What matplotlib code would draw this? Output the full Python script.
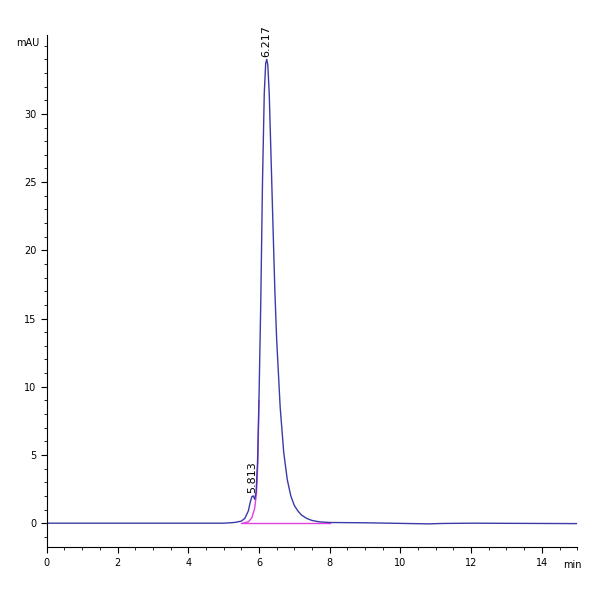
import matplotlib.pyplot as plt
from matplotlib.ticker import MultipleLocator

# chromatogram trace (min, mAU)
time = [0, 5.0, 5.3, 5.4, 5.5, 5.6, 5.7, 5.75, 5.8, 5.84, 5.88, 5.92, 5.96, 6.0, 6.05, 6.1,
        6.15, 6.19, 6.22, 6.25, 6.29, 6.34, 6.4, 6.45, 6.5, 6.6, 6.7, 6.8, 6.9, 7.0,
        7.1, 7.2, 7.35, 7.5, 7.7, 8.0, 9.0, 10.8, 11.2, 12.0, 15.0]
signal = [0.0, 0.0, 0.05, 0.1, 0.15, 0.35, 0.9, 1.5, 1.95, 2.0, 1.75, 2.3, 4.5, 9.0, 16.0, 25.0,
          31.5, 33.7, 34.0, 33.6, 31.5, 27.0, 21.5, 17.0, 13.5, 8.5, 5.2, 3.2, 2.0, 1.3,
          0.9, 0.6, 0.35, 0.2, 0.1, 0.05, 0.03, -0.05, -0.02, 0.0, -0.03]

# magenta fitted peak start
fit_t = [5.55, 5.7, 5.8, 5.88, 5.93, 5.97, 6.0]
fit_y = [0.0, 0.1, 0.4, 1.1, 2.2, 4.6, 9.0]
base_t = [5.5, 8.0]
base_y = [0.0, 0.0]

peaks = [(5.813, 2.0, "5.813"), (6.217, 34.0, "6.217")]

fig = plt.figure(figsize=(6, 6), dpi=100)
ax = fig.add_axes([0.078, 0.088, 0.884, 0.854])
ax.plot(base_t, base_y, color="#e040e0", lw=1)
ax.plot(fit_t, fit_y, color="#e040e0", lw=1)
ax.plot(time, signal, color="#3a3aa8", lw=1)
for t, y, lab in peaks:
    ax.text(t, y + 0.2, lab, rotation=90, ha="center", va="bottom", fontsize=8)

ax.set_xlim(0, 15)
ax.set_ylim(-1.76, 35.8)
ax.xaxis.set_major_locator(MultipleLocator(2))
ax.xaxis.set_minor_locator(MultipleLocator(0.5))
ax.yaxis.set_major_locator(MultipleLocator(5))
ax.yaxis.set_minor_locator(MultipleLocator(1))
ax.set_yticks([0, 5, 10, 15, 20, 25, 30])
ax.tick_params(labelsize=7, direction="out", length=4)
ax.tick_params(which="minor", length=2)
for s in ["top", "right"]:
    ax.spines[s].set_visible(False)
ax.text(-0.2, 35.6, "mAU", fontsize=7, ha="right", va="top")
ax.text(14.6, -2.7, "min", fontsize=7, ha="left", va="top")

fig.savefig("out.png", dpi=100)
